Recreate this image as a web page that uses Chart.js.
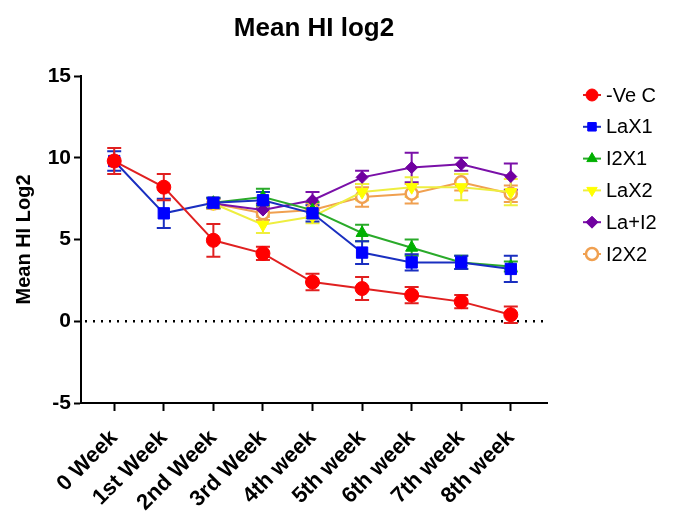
<!DOCTYPE html>
<html>
<head>
<meta charset="utf-8">
<script src="https://cdn.jsdelivr.net/npm/chart.js@4"></script>
<style>
  html, body { margin: 0; padding: 0; background: #fff; }
  #wrap { width: 675px; height: 511px; }
</style>
</head>
<body>
<div id="wrap"><canvas id="myChart"></canvas></div>
<script>
// data
const weeks = ["0 Week", "1st Week", "2nd Week", "3rd Week", "4th week", "5th week", "6th week", "7th week", "8th week"];
const yTicks = [-5, 0, 5, 10, 15];

const veC = [9.8, 8.2, 4.95, 4.15, 2.4, 2.0, 1.6, 1.2, 0.4];
const veCErr = [0.8, 0.8, 1.0, 0.4, 0.5, 0.7, 0.5, 0.4, 0.5];
const laX1 = [9.8, 6.6, 7.25, 7.4, 6.6, 4.2, 3.6, 3.6, 3.2];
const laX1Err = [0.6, 0.9, 0.3, 0.5, 0.5, 0.7, 0.5, 0.4, 0.8];
const i2X1 = [null, null, 7.25, 7.6, 6.8, 5.4, 4.5, 3.6, 3.35];
const i2X1Err = [null, null, 0.3, 0.5, 0.5, 0.5, 0.5, 0.4, 0.3];
const laX2 = [null, null, 7.2, 5.9, 6.4, 7.9, 8.2, 8.2, 7.9];
const laX2Err = [null, null, 0.3, 0.5, 0.4, 0.5, 0.6, 0.8, 0.8];
const laI2 = [null, null, 7.2, 6.8, 7.4, 8.8, 9.4, 9.6, 8.85];
const laI2Err = [null, null, 0.3, 0.4, 0.5, 0.4, 0.9, 0.4, 0.8];
const i2X2 = [null, null, 7.2, 6.6, 6.8, 7.6, 7.8, 8.5, 7.8];
const i2X2Err = [null, null, 0.3, 0.4, 0.4, 0.6, 0.6, 0.5, 0.5];

const FONT = "'Liberation Sans', Arial, sans-serif";

function pts(vals) {
  return vals.map((v, i) => ({ x: i, y: v }));
}

function series(label, vals, errs, color, lineColor, style, extra) {
  return Object.assign({
    label: label,
    data: pts(vals),
    errors: errs,
    borderColor: lineColor,
    backgroundColor: color,
    pointBackgroundColor: color,
    pointBorderColor: color,
    pointStyle: style,
    pointRadius: 7,
    pointBorderWidth: 1,
    borderWidth: 2,
    tension: 0,
    spanGaps: false
  }, extra || {});
}

const datasets = [
  series("-Ve C", veC, veCErr, "#ff0000", "#e02020", "circle"),
  series("LaX1", laX1, laX1Err, "#0000ff", "#1a2fc0", "rect", { pointRadius: 8 }),
  series("I2X1", i2X1, i2X1Err, "#00b000", "#2aaa2a", "triangle", { pointRadius: 7 }),
  series("LaX2", laX2, laX2Err, "#ffff00", "#eeee40", "triangle", { pointRadius: 7, pointRotation: 180 }),
  series("La+I2", laI2, laI2Err, "#7000a0", "#7a10a8", "rectRot", { pointRadius: 6 }),
  series("I2X2", i2X2, i2X2Err, "#ffffff", "#f0a050", "circle", { pointBorderColor: "#f0a050", pointBorderWidth: 2.5, pointRadius: 6 })
];

// error bars, zero line, title and legend
const extras = {
  id: "extras",
  beforeDatasetsDraw(chart) {
    const ctx = chart.ctx;
    const x = chart.scales.x, y = chart.scales.y;
    const area = chart.chartArea;
    // dotted zero line
    ctx.save();
    ctx.strokeStyle = "#000";
    ctx.lineWidth = 2.5;
    ctx.setLineDash([2, 6]);
    ctx.beginPath();
    ctx.moveTo(area.left + 4, y.getPixelForValue(0));
    ctx.lineTo(area.right, y.getPixelForValue(0));
    ctx.stroke();
    ctx.setLineDash([]);
    // error bars
    for (let d = chart.data.datasets.length - 1; d >= 0; d--) {
      const ds = chart.data.datasets[d];
      ctx.strokeStyle = ds.borderColor;
      ctx.lineWidth = 2;
      ds.data.forEach((p, i) => {
        if (p.y == null || ds.errors[i] == null) return;
        const px = x.getPixelForValue(p.x);
        const top = y.getPixelForValue(p.y + ds.errors[i]);
        const bot = y.getPixelForValue(p.y - ds.errors[i]);
        ctx.beginPath();
        ctx.moveTo(px, top); ctx.lineTo(px, bot);
        ctx.moveTo(px - 7, top); ctx.lineTo(px + 7, top);
        ctx.moveTo(px - 7, bot); ctx.lineTo(px + 7, bot);
        ctx.stroke();
      });
    }
    ctx.restore();
  },
  afterDraw(chart) {
    const ctx = chart.ctx;
    const area = chart.chartArea;
    ctx.save();
    ctx.fillStyle = "#000";
    ctx.textAlign = "center";
    ctx.textBaseline = "middle";
    ctx.font = "bold 26px " + FONT;
    ctx.fillText("Mean HI log2", (area.left + area.right) / 2, 29);

    // legend
    const lx = 592, ly0 = 95, step = 31.8;
    chart.data.datasets.forEach((ds, i) => {
      const cy = ly0 + i * step;
      ctx.strokeStyle = ds.borderColor;
      ctx.lineWidth = 2;
      ctx.beginPath();
      ctx.moveTo(lx - 9, cy); ctx.lineTo(lx + 9, cy);
      ctx.stroke();
      ctx.fillStyle = ds.pointBackgroundColor;
      ctx.strokeStyle = ds.pointBorderColor;
      ctx.lineWidth = ds.pointBorderWidth;
      Chart.helpers.drawPoint(ctx, {
        pointStyle: ds.pointStyle,
        rotation: ds.pointRotation || 0,
        radius: Math.min(ds.pointRadius, 6),
        borderWidth: ds.pointBorderWidth
      }, lx, cy);
      ctx.fillStyle = "#000";
      ctx.textAlign = "left";
      ctx.font = "20px " + FONT;
      ctx.fillText(ds.label, lx + 14, cy + 1);
    });
    ctx.restore();
  }
};

const ctx = document.getElementById("myChart").getContext("2d");

const config = {
  type: "line",
  data: { datasets: datasets },
  options: {
    responsive: true,
    maintainAspectRatio: false,
    animation: false,
    layout: { padding: { top: 76, right: 128, left: 12, bottom: 0 } },
    plugins: {
      legend: { display: false },
      title: { display: false },
      tooltip: { enabled: false }
    },
    scales: {
      x: {
        type: "linear",
        min: -0.67,
        max: 8.73,
        afterBuildTicks(scale) {
          scale.ticks = weeks.map((w, i) => ({ value: i }));
        },
        afterFit(scale) { scale.height = 108; },
        ticks: {
          color: "#000",
          font: { family: FONT, size: 22, weight: "bold" },
          minRotation: 45,
          maxRotation: 45,
          padding: 14,
          callback: (v) => weeks[v]
        },
        grid: { drawOnChartArea: false, color: "#000", tickLength: 8, tickWidth: 2 },
        border: { color: "#000", width: 2 }
      },
      y: {
        min: -5,
        max: 15,
        afterBuildTicks(scale) {
          scale.ticks = yTicks.map((v) => ({ value: v }));
        },
        afterFit(scale) { scale.width = 69; },
        title: {
          display: true,
          text: "Mean HI Log2",
          color: "#000",
          font: { family: FONT, size: 20, weight: "bold" },
          padding: { top: 0, bottom: 0 }
        },
        ticks: {
          color: "#000",
          font: { family: FONT, size: 21, weight: "bold" },
          padding: 3
        },
        grid: { drawOnChartArea: false, color: "#000", tickLength: 7, tickWidth: 2 },
        border: { color: "#000", width: 2 }
      }
    }
  },
  plugins: [extras]
};

const myChart = new Chart(ctx, config);
</script>
</body>
</html>
